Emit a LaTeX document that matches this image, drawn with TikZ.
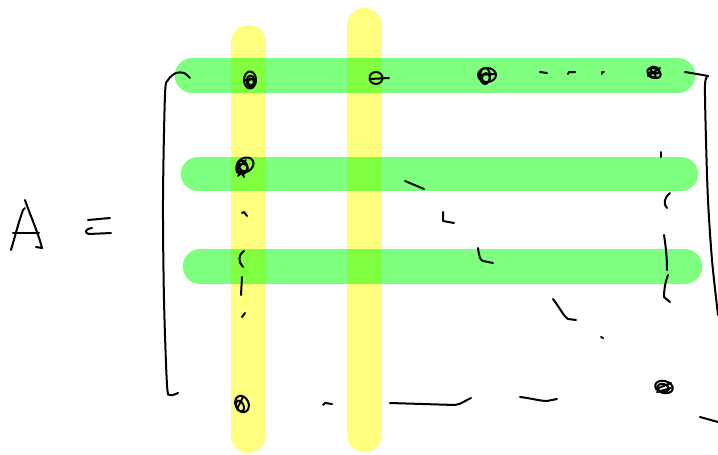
\documentclass[tikz,border=0pt]{standalone}
\definecolor{hlgreen}{RGB}{0,255,0}
\definecolor{hlyellow}{RGB}{255,255,0}
\begin{document}
\begin{tikzpicture}[x=1pt,y=-1pt,
  ink/.style={line width=2pt,line cap=round,line join=round},
  gbar/.style={line width=34.5pt,line cap=round,draw=hlgreen,draw opacity=0.5},
  ybar/.style={line width=35pt,line cap=round,draw=hlyellow,draw opacity=0.5}]
\useasboundingbox (0,0) rectangle (718,455);
% highlighter columns
\draw[ybar] (248.5,42.5) -- (248.5,435.5);
\draw[ybar] (364.5,25.5) -- (364.5,434.5);
% highlighter rows
\draw[gbar] (192,75.5) -- (678,75.5);
\draw[gbar] (198,174) -- (681,174);
\draw[gbar] (200,266.5) -- (685,266.5);
% A =
\draw[ink] (11,250) -- (19,222) -- (23,210) -- (25,208);
\draw[ink] (25,200) .. controls (30,215) and (38,232) .. (42,248) -- (36,247);
\draw[ink] (13,233) -- (39,233);
\draw[ink] (88,220) -- (110,218);
\draw[ink] (92,228) .. controls (85,229) and (84,233) .. (89,234) -- (111,233);
% brackets
\draw[ink] plot[smooth] coordinates {(190,78) (184,73) (176,73) (168,80) (165,95) (163,200) (164,300) (167,385) (170,395) (178,393)};
\draw[ink] plot[smooth] coordinates {(685,72) (697,74) (708,76)};
\draw[ink] plot[smooth] coordinates {(708,76) (705,85) (706,140) (708,200) (712,260) (718,315)};
\draw[ink] (700,417) -- (718,422);
% row 1
\draw[ink] (250,80) ellipse (6 and 8.5);
\draw[ink] (250.5,81) ellipse (4 and 5.5);
\draw[ink] (251,82) ellipse (3 and 3.5);
\draw[ink] (245,80) -- (256,79);
\draw[ink] (376,78) ellipse (6.5 and 6);
\draw[ink] (370,79) -- (389,78);
\draw[ink] (487,75) ellipse (9 and 7);
\draw[ink] (485,76) ellipse (5 and 8);
\draw[ink] (486,78) ellipse (4 and 5);
\draw[ink] (478,75) -- (496,74);
\draw[ink] (540,72) -- (547,73);
\draw[ink] (568,74) -- (569,72) -- (575,72);
\draw[ink] (602,74) -- (602,72) -- (604,72);
\draw[ink, rotate around={-25:(654,73)}] (654,73) ellipse (7 and 4.5);
\draw[ink, rotate around={-25:(655,70)}] (655,70) ellipse (5 and 3);
\draw[ink, rotate around={-25:(652,75)}] (652,75) ellipse (4 and 2.5);
\draw[ink] (648,76) -- (660,68);
% row 2
\draw[ink, rotate around={30:(245,165)}] (245,165) ellipse (9 and 7);
\draw[ink, rotate around={30:(242,169)}] (242,169) ellipse (6 and 5);
\draw[ink, rotate around={30:(243,166)}] (243,166) ellipse (4 and 6);
\draw[ink] (236,170) -- (246,160);
\draw[ink] (238,176) -- (242,172) -- (244,177);
\draw[ink] (405,181) -- (424,189);
\draw[ink] (661,152) -- (661,157);
\draw[ink] (670,193) .. controls (664,198) and (663,204) .. (667,208);
% between rows 2 and 3
\draw[ink] (242,213) -- (244,212) -- (247,216);
\draw[ink] (443,212) -- (443,221) -- (454,223);
% row 3
\draw[ink] (244,251) .. controls (238,255) and (238,262) .. (243,267);
\draw[ink] (478,248) .. controls (479,256) and (480,260) .. (483,261) -- (493,263);
\draw[ink] (664,235) .. controls (666,248) and (667,258) .. (667,270);
\draw[ink] (668,275) .. controls (665,283) and (664,290) .. (664,297) -- (670,302);
\draw[ink] (242,277) -- (241,295);
\draw[ink] (245,313) -- (242,317);
\draw[ink] (553,299) .. controls (560,308) and (564,317) .. (568,319) -- (576,320);
\draw[ink] (601,337) -- (603,338);
% bottom row
\draw[ink, rotate around={25:(242,404)}] (242,404) ellipse (6.5 and 8.5);
\draw[ink, rotate around={25:(240,406)}] (240,406) ellipse (3.5 and 6);
\draw[ink] (237,409) -- (243,397);
\draw[ink] (323,405) -- (325,403) -- (332,404);
\draw[ink] (390,403) -- (455,405) .. controls (462,404) and (466,400) .. (471,398);
\draw[ink] (520,397) .. controls (530,398) and (540,401) .. (547,401) -- (557,399);
\draw[ink, rotate around={-15:(664,387)}] (664,387) ellipse (9 and 6);
\draw[ink, rotate around={-15:(663,388)}] (663,388) ellipse (6 and 4);
\draw[ink] (656,389) -- (671,383);
\draw[ink] (657,392) -- (671,388);
\end{tikzpicture}
\end{document}
